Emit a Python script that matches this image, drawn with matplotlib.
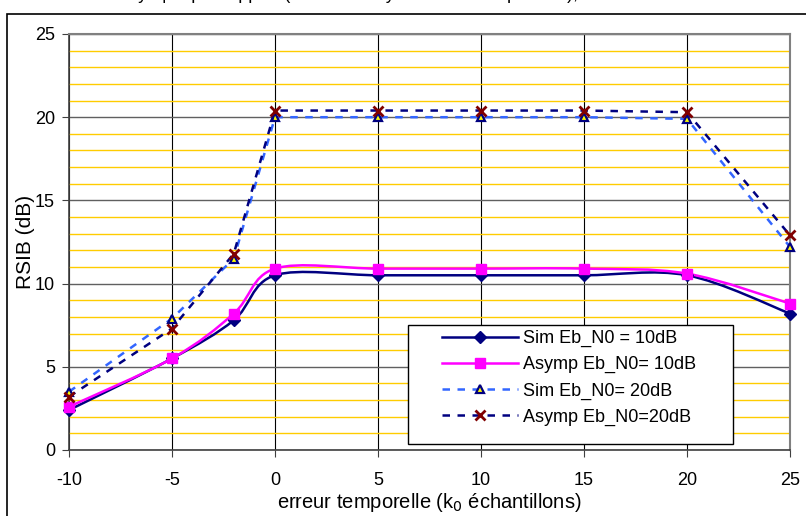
import numpy as np
import matplotlib
matplotlib.use("Agg")
import matplotlib.pyplot as plt
from matplotlib.path import Path
from matplotlib.patches import PathPatch, Rectangle
from matplotlib.lines import Line2D

plt.rcParams['font.family'] = ['Liberation Sans', 'DejaVu Sans']
plt.rcParams['axes.unicode_minus'] = False

# data
k0 = [-10, -5, -2, 0, 5, 10, 15, 20, 25]
sim_10 = [2.4, 5.5, 7.8, 10.5, 10.5, 10.5, 10.5, 10.5, 8.2]
asymp_10 = [2.6, 5.5, 8.2, 10.9, 10.9, 10.9, 10.9, 10.6, 8.8]
sim_20 = [3.5, 7.9, 11.5, 20.0, 20.0, 20.0, 20.0, 19.9, 12.2]
asymp_20 = [3.2, 7.3, 11.8, 20.4, 20.4, 20.4, 20.4, 20.3, 12.9]
labels = ['Sim Eb_N0 = 10dB', 'Asymp Eb_N0= 10dB', 'Sim Eb_N0= 20dB', 'Asymp Eb_N0=20dB']

W, H = 806, 516


def smooth_path(x, y):
    # Excel style smoothed line: cubic bezier through the points
    p = np.column_stack([x, y]).astype(float)
    ext = np.vstack([p[0], p, p[-1]])
    verts = [p[0]]
    codes = [Path.MOVETO]
    for i in range(len(p) - 1):
        a, b, c, d = ext[i], ext[i + 1], ext[i + 2], ext[i + 3]
        verts += [b + (c - a) / 6, c - (d - b) / 6, c]
        codes += [Path.CURVE4] * 3
    return Path(verts, codes)


fig = plt.figure(figsize=(W / 100, H / 100), dpi=100)
ax = fig.add_axes([69 / W, 1 - 450 / H, 721 / W, 416 / H])

# outer chart frame
fig.patches.append(Rectangle((7 / W, -0.05), 1.0, 1 - 14 / H + 0.05,
                             transform=fig.transFigure, fill=False,
                             edgecolor='black', linewidth=1.2))

# title, cut off at the top in the original
fig.text(0.5, 1 + 1 / H, "RSIB analytique par rapport (simulation synchronisation parfaite), en fonction du retard",
         ha='center', va='baseline', fontsize=13)

ax.set_xlim(-10, 25)
ax.set_ylim(0, 25)
ax.set_xticks(np.arange(-10, 26, 5))
ax.set_yticks(np.arange(0, 26, 5))
ax.set_yticks(np.arange(0, 26, 1), minor=True)
ax.tick_params(axis='y', which='minor', length=0)
ax.tick_params(axis='both', which='major', direction='out', length=5,
               labelsize=13, color='#404040')
ax.tick_params(axis='x', pad=11)
ax.tick_params(axis='y', pad=5)
ax.grid(True, which='minor', axis='y', color='#FFCC00', linewidth=1.0)
ax.grid(True, which='major', axis='y', color='#606060', linewidth=1.0)
ax.grid(True, which='major', axis='x', color='black', linewidth=0.8)
ax.set_axisbelow(True)
for s in ['top', 'right']:
    ax.spines[s].set_color('#808080')
    ax.spines[s].set_linewidth(1.5)
for s in ['left', 'bottom']:
    ax.spines[s].set_color('#404040')
    ax.spines[s].set_linewidth(1.2)

# 10 dB curves (smoothed)
ax.add_patch(PathPatch(smooth_path(k0, sim_10), fill=False, edgecolor='#000080',
                       linewidth=1.8, zorder=3))
ax.add_patch(PathPatch(smooth_path(k0, asymp_10), fill=False, edgecolor='#FF00FF',
                       linewidth=1.8, zorder=4))
ax.plot(k0, sim_10, linestyle='none', marker='D', markersize=6,
        color='#000080', zorder=5, clip_on=False)
ax.plot(k0, asymp_10, linestyle='none', marker='s', markersize=7,
        color='#FF00FF', zorder=6, clip_on=False)

# 20 dB curves (dashed)
ax.plot(k0, sim_20, linestyle=(0, (3, 3)), linewidth=1.8, color='#3366FF',
        marker='^', markersize=6, markerfacecolor='#FFFF00',
        markeredgecolor='#000080', markeredgewidth=1.6, zorder=5, clip_on=False)
ax.plot(k0, asymp_20, linestyle=(0, (3, 3)), linewidth=1.8, color='#000080',
        marker='x', markersize=7, markeredgecolor='#800000',
        markeredgewidth=2, zorder=6, clip_on=False)

ax.set_xlabel("erreur temporelle (k$_0$ échantillons)", fontsize=14.5, labelpad=1)
ax.set_ylabel("RSIB (dB)", fontsize=15, labelpad=0)

handles = [
    Line2D([], [], color='#000080', linewidth=1.8, marker='D', markersize=6),
    Line2D([], [], color='#FF00FF', linewidth=1.8, marker='s', markersize=7),
    Line2D([], [], color='#3366FF', linewidth=1.8, linestyle=(0, (3, 3)), marker='^',
           markersize=6, markerfacecolor='#FFFF00', markeredgecolor='#000080',
           markeredgewidth=1.6),
    Line2D([], [], color='#000080', linewidth=1.8, linestyle=(0, (3, 3)), marker='x',
           markersize=7, markeredgecolor='#800000', markeredgewidth=2),
]

# legend box drawn by hand (Excel style padding)
ax.add_patch(Rectangle((408 / W, 1 - 444 / H), 325 / W, 119 / H,
                       transform=fig.transFigure, facecolor='white',
                       edgecolor='black', linewidth=1.0, zorder=8, clip_on=False))
leg = ax.legend(handles, labels, loc='upper left',
                bbox_to_anchor=(442 / W, 1 - 330 / H), bbox_transform=fig.transFigure,
                fontsize=13, frameon=False, handlelength=4.2, borderpad=0,
                labelspacing=0.5, handletextpad=0.3, borderaxespad=0)
leg.set_zorder(10)

fig.savefig("out.png", dpi=100)
